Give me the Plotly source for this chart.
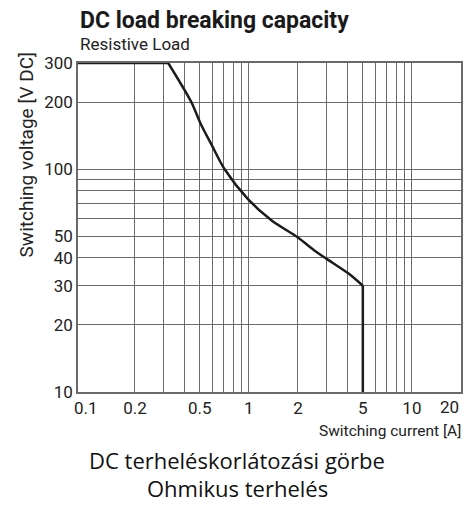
import plotly.graph_objects as go
import math

# ---- data ----
current_a = [0.0895, 0.32, 0.444, 0.506, 0.593, 0.71, 0.99, 1.38, 1.99, 2.52, 3.0, 4.07, 5.0, 5.0]
voltage_v = [300, 300, 200, 160, 128, 100, 73.3, 58.9, 49.5, 43.2, 39.6, 34.1, 30, 10]

x_tick_vals = [0.1, 0.2, 0.5, 1, 2, 5, 10]
x_tick_text = ["0.1", "0.2", "0.5", "1", "2", "5", "10"]
x_grid_vals = [0.2, 0.3, 0.4, 0.5, 0.6, 0.7, 0.8, 0.9, 1, 2, 3, 4, 5, 6, 7, 8, 9, 10]
y_tick_vals = [10, 20, 30, 40, 50, 100, 200, 300]
y_tick_text = ["10", "20", "30", "40", "50", "100", "200", "300"]
y_minor_vals = [60, 70, 80, 90]
x_range = [0.0895, 20]
y_range = [10, 300]

NARROW = "Roboto"
REG = "Open Sans"
GRID = "#6a6a6a"
CURVE = "#1c1c1c"

fig = go.Figure()
# flat limit, smooth breaking curve, vertical current limit
fig.add_trace(go.Scatter(x=current_a[0:2], y=voltage_v[0:2], mode="lines",
                         line=dict(color=CURVE, width=2.5), hoverinfo="skip"))
fig.add_trace(go.Scatter(x=current_a[1:13], y=voltage_v[1:13], mode="lines",
                         line=dict(color=CURVE, width=2.5, shape="spline", smoothing=0.8),
                         hoverinfo="skip"))
fig.add_trace(go.Scatter(x=current_a[12:14], y=voltage_v[12:14], mode="lines",
                         line=dict(color=CURVE, width=2.5), hoverinfo="skip"))

fig.update_layout(
    width=468, height=506,
    margin=dict(l=78, r=5, t=63, b=114),
    paper_bgcolor="white", plot_bgcolor="white",
    showlegend=False,
    xaxis=dict(type="log", range=[math.log10(x_range[0]), math.log10(x_range[1])],
               tickmode="array", tickvals=x_tick_vals, ticktext=x_tick_text,
               showgrid=False, ticks="", showline=True, mirror=True,
               linecolor=GRID, linewidth=1.5, zeroline=False,
               tickfont=dict(family=NARROW, size=17, color="#222"),
               minor=dict(tickmode="array", tickvals=x_grid_vals, showgrid=True,
                          gridcolor=GRID, gridwidth=1.3, ticks="")),
    yaxis=dict(type="log", range=[math.log10(y_range[0]), math.log10(y_range[1])],
               tickmode="array", tickvals=y_tick_vals, ticktext=y_tick_text,
               showgrid=True, gridcolor=GRID, gridwidth=1.3, ticks="",
               showline=True, mirror=True, linecolor=GRID, linewidth=1.5, zeroline=False,
               tickfont=dict(family=NARROW, size=17, color="#222"),
               minor=dict(tickmode="array", tickvals=y_minor_vals, showgrid=True,
                          gridcolor=GRID, gridwidth=1.3, ticks="")),
)

ann = [
    dict(text="<b>DC load breaking capacity</b>", x=0, y=1.128, xanchor="left", yanchor="middle",
         font=dict(family=NARROW, size=23, color="#1a1a1a")),
    dict(text="Resistive Load", x=0, y=1.059, xanchor="left", yanchor="middle",
         font=dict(family=NARROW, size=17, color="#222")),
    dict(text="Switching voltage [V DC]", x=-0.135, y=0.72, xanchor="center", yanchor="middle",
         textangle=-90, font=dict(family=NARROW, size=19, color="#222")),
    dict(text="Switching current [A]", x=0.6234, y=-0.1185, xanchor="left", yanchor="middle",
         font=dict(family=NARROW, size=15.5, color="#222")),
    dict(text="DC terheléskorlátozási görbe", x=0.4156, y=-0.2052, xanchor="center", yanchor="middle",
         font=dict(family=REG, size=22, color="#111")),
    dict(text="Ohmikus terhelés", x=0.4156, y=-0.3435, xanchor="center", yanchor="bottom",
         font=dict(family=REG, size=22, color="#111")),
]
for a in ann:
    a.update(xref="paper", yref="paper", showarrow=False)
    fig.add_annotation(**a)
# tick label "20" at the right edge of the x axis, right-aligned
fig.add_annotation(text="20", xref="x", yref="paper", x=math.log10(x_range[1]), y=-0.045,
                   xanchor="right", yanchor="middle", showarrow=False,
                   font=dict(family=NARROW, size=17, color="#222"))

fig.write_html("out.html", config={"displayModeBar": False},
               post_script="document.body.style.margin='0';")
